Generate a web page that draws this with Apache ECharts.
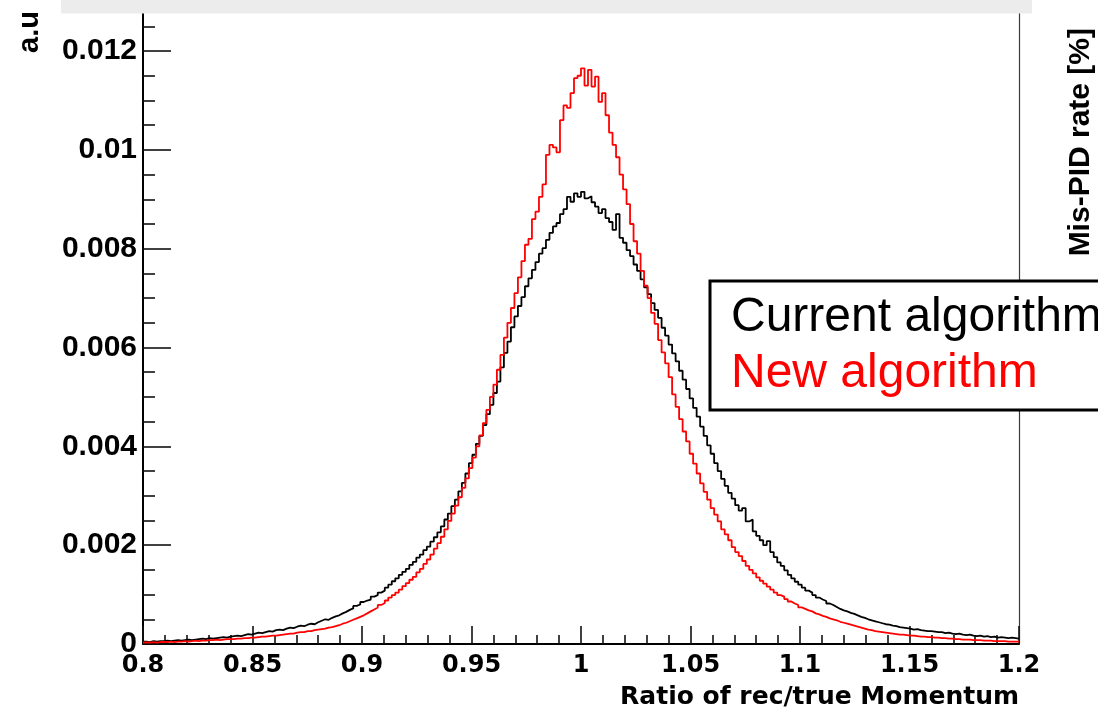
<!DOCTYPE html>
<html>
<head>
<meta charset="utf-8">
<script src="https://cdn.jsdelivr.net/npm/echarts@6/dist/echarts.min.js"></script>
<style>
  html, body { margin: 0; padding: 0; background: #ffffff; }
  #chart { width: 1098px; height: 709px; }
</style>
</head>
<body>
<div id="chart"></div>
<script>
// Histogram binning: equal-width bins over the momentum-ratio range
const BIN_LO = 0.8;
const BIN_HI = 1.2;

const seriesNames = ['Current algorithm', 'New algorithm'];
const xTitle = 'Ratio of rec/true Momentum';
const yTitle = 'a.u';
const y2Title = 'Mis-PID rate [%]';

// Bin contents (a.u.), 250 bins from 0.8 to 1.2
const currentAlgo = [
  0.00005,0.00004,0.00006,0.00005,0.00006,0.00006,0.00007,0.00006,0.00007,0.00008,
  0.00007,0.00008,0.00009,0.00008,0.00009,0.00010,0.00011,0.00010,0.00012,0.00011,
  0.00012,0.00013,0.00014,0.00013,0.00015,
  0.00016,0.00017,0.00016,0.00018,0.00020,0.00019,0.00021,0.00023,0.00022,0.00024,
  0.00026,0.00025,0.00028,0.00029,0.00028,0.00031,0.00033,0.00032,0.00035,0.00037,
  0.00036,0.00039,0.00041,0.00040,0.00044,
  0.00047,0.00050,0.00049,0.00053,0.00056,0.00058,0.00062,0.00065,0.00069,0.00072,
  0.00077,0.00080,0.00085,0.00088,0.00090,0.00096,0.00099,0.00104,0.00108,0.00114,
  0.00120,0.00127,0.00133,0.00140,0.00146,
  0.00152,0.00160,0.00166,0.00175,0.00181,0.00190,0.00197,0.00207,0.00216,0.00226,
  0.00238,0.00252,0.00264,0.00279,0.00292,0.00309,0.00326,0.00345,0.00366,0.00383,
  0.00405,0.00421,0.00443,0.00465,0.00484,
  0.00508,0.00531,0.00560,0.00589,0.00612,0.00641,0.00663,0.00684,0.00702,0.00724,
  0.00740,0.00757,0.00773,0.00790,0.00801,0.00818,0.00832,0.00845,0.00852,0.00870,
  0.00880,0.00905,0.00895,0.00912,0.00905,
  0.00915,0.00902,0.00906,0.00894,0.00885,0.00872,0.00880,0.00862,0.00854,0.00838,
  0.00870,0.00822,0.00812,0.00797,0.00785,0.00768,0.00755,0.00738,0.00722,0.00708,
  0.00690,0.00676,0.00660,0.00640,0.00624,
  0.00606,0.00588,0.00572,0.00553,0.00535,0.00516,0.00497,0.00478,0.00460,0.00440,
  0.00421,0.00402,0.00385,0.00366,0.00350,0.00334,0.00320,0.00306,0.00294,0.00281,
  0.00270,0.00275,0.00248,0.00252,0.00228,
  0.00219,0.00210,0.00200,0.00208,0.00186,0.00176,0.00165,0.00158,0.00149,0.00140,
  0.00133,0.00126,0.00120,0.00114,0.00108,0.00104,0.00099,0.00094,0.00090,0.00087,
  0.00082,0.00079,0.00075,0.00071,0.00068,
  0.00066,0.00063,0.00061,0.00058,0.00055,0.00053,0.00050,0.00048,0.00046,0.00044,
  0.00042,0.00040,0.00039,0.00037,0.00036,0.00034,0.00033,0.00032,0.00031,0.00029,
  0.00030,0.00028,0.00027,0.00026,0.00026,
  0.00025,0.00024,0.00024,0.00022,0.00023,0.00021,0.00020,0.00021,0.00019,0.00018,
  0.00019,0.00017,0.00016,0.00017,0.00015,0.00016,0.00014,0.00015,0.00013,0.00014,
  0.00013,0.00012,0.00013,0.00012,0.00011
];

const newAlgo = [
  0.00003,0.00003,0.00004,0.00003,0.00004,0.00004,0.00004,0.00005,0.00004,0.00005,
  0.00005,0.00006,0.00005,0.00006,0.00007,0.00006,0.00007,0.00007,0.00008,0.00008,
  0.00009,0.00008,0.00009,0.00010,0.00010,
  0.00010,0.00011,0.00011,0.00012,0.00012,0.00013,0.00013,0.00014,0.00015,0.00015,
  0.00016,0.00017,0.00017,0.00018,0.00019,0.00020,0.00021,0.00021,0.00023,0.00024,
  0.00024,0.00026,0.00026,0.00028,0.00029,
  0.00030,0.00031,0.00033,0.00034,0.00036,0.00038,0.00041,0.00043,0.00046,0.00049,
  0.00052,0.00055,0.00058,0.00062,0.00066,0.00070,0.00074,0.00079,0.00083,0.00088,
  0.00094,0.00099,0.00104,0.00110,0.00117,
  0.00123,0.00130,0.00136,0.00145,0.00152,0.00162,0.00171,0.00181,0.00193,0.00204,
  0.00217,0.00232,0.00249,0.00264,0.00280,0.00297,0.00316,0.00335,0.00356,0.00377,
  0.00400,0.00422,0.00447,0.00474,0.00500,
  0.00525,0.00555,0.00585,0.00620,0.00650,0.00680,0.00710,0.00742,0.00775,0.00808,
  0.00820,0.00860,0.00875,0.00905,0.00930,0.00990,0.01010,0.01005,0.00995,0.01060,
  0.01090,0.01085,0.01115,0.01145,0.01150,
  0.01165,0.01130,0.01162,0.01128,0.01148,0.01097,0.01115,0.01070,0.01035,0.01010,
  0.00985,0.00950,0.00920,0.00890,0.00850,0.00815,0.00790,0.00755,0.00725,0.00700,
  0.00670,0.00648,0.00615,0.00590,0.00568,
  0.00540,0.00505,0.00480,0.00455,0.00430,0.00410,0.00385,0.00365,0.00345,0.00325,
  0.00308,0.00292,0.00275,0.00262,0.00248,0.00232,0.00222,0.00210,0.00196,0.00186,
  0.00178,0.00168,0.00158,0.00150,0.00143,
  0.00135,0.00128,0.00122,0.00116,0.00110,0.00104,0.00099,0.00096,0.00091,0.00086,
  0.00082,0.00079,0.00074,0.00071,0.00068,0.00066,0.00062,0.00060,0.00057,0.00055,
  0.00052,0.00050,0.00048,0.00045,0.00043,
  0.00041,0.00039,0.00037,0.00035,0.00033,0.00031,0.00029,0.00028,0.00026,0.00025,
  0.00024,0.00023,0.00022,0.00021,0.00020,0.00019,0.00019,0.00018,0.00017,0.00017,
  0.00016,0.00015,0.00015,0.00014,0.00014,
  0.00013,0.00013,0.00012,0.00012,0.00011,0.00011,0.00010,0.00010,0.00009,0.00009,
  0.00009,0.00008,0.00008,0.00008,0.00007,0.00007,0.00007,0.00006,0.00006,0.00006,
  0.00006,0.00005,0.00005,0.00005,0.00005
];

// Turn bin contents into [lowEdge, value] pairs for a step outline,
// closing the last bin at the upper edge.
function histOutline(values) {
  const w = (BIN_HI - BIN_LO) / values.length;
  const pts = values.map((v, i) => [BIN_LO + i * w, v]);
  pts.push([BIN_HI, values[values.length - 1]]);
  return pts;
}

const chart = echarts.init(document.getElementById('chart'), null, { renderer: 'canvas' });

const tickStyle = { color: '#111', width: 1.6 };

const option = {
  animation: false,
  backgroundColor: '#ffffff',
  grid: {
    left: 143,
    right: 79,
    top: -47.8,
    bottom: 65,
    containLabel: false,
    outerBoundsMode: 'none'
  },
  legend: {
    orient: 'vertical',
    left: 710,
    top: 281,
    padding: [9, 60, 8, 16],
    itemGap: 0,
    itemWidth: 0,
    itemHeight: 0,
    icon: 'rect',
    selectedMode: false,
    backgroundColor: '#ffffff',
    borderColor: '#000000',
    borderWidth: 3,
    borderRadius: 0,
    textStyle: {
      fontFamily: 'Liberation Sans',
      fontSize: 48,
      lineHeight: 56
    },
    data: [
      { name: seriesNames[0], textStyle: { color: '#000000' } },
      { name: seriesNames[1], textStyle: { color: '#ff0000' } }
    ],
    z: 20
  },
  xAxis: {
    type: 'value',
    min: BIN_LO,
    max: BIN_HI,
    interval: 0.05,
    axisLine: { show: true, lineStyle: { color: '#000', width: 2 } },
    axisTick: { show: true, inside: true, length: 18, lineStyle: tickStyle },
    minorTick: { show: true, splitNumber: 5, length: 9, lineStyle: tickStyle },
    splitLine: { show: false },
    minorSplitLine: { show: false },
    axisLabel: {
      color: '#000',
      fontFamily: 'DejaVu Sans',
      fontWeight: 'bold',
      fontSize: 24,
      margin: 10
    }
  },
  yAxis: [
    {
      type: 'value',
      position: 'left',
      min: 0,
      max: 0.014,
      interval: 0.002,
      axisLine: { show: true, lineStyle: { color: '#000', width: 2 } },
      axisTick: { show: true, inside: true, length: 28, lineStyle: tickStyle },
      minorTick: { show: true, splitNumber: 4, length: 12, lineStyle: tickStyle },
      splitLine: { show: false },
      minorSplitLine: { show: false },
      axisLabel: {
        color: '#000',
        fontFamily: 'Liberation Sans',
        fontWeight: 'bold',
        fontSize: 30,
        margin: 6
      }
    },
    {
      type: 'value',
      position: 'right',
      min: 0,
      max: 1,
      axisLine: { show: true, onZero: false, lineStyle: { color: '#3a3a3a', width: 1.2 } },
      axisTick: { show: false },
      axisLabel: { show: false },
      splitLine: { show: false }
    }
  ],
  series: [
    {
      name: seriesNames[0],
      type: 'line',
      step: 'end',
      yAxisIndex: 0,
      data: histOutline(currentAlgo),
      showSymbol: false,
      symbol: 'none',
      color: '#000000',
      lineStyle: { color: '#000000', width: 1.8 },
      z: 3
    },
    {
      name: seriesNames[1],
      type: 'line',
      step: 'end',
      yAxisIndex: 0,
      data: histOutline(newAlgo),
      showSymbol: false,
      symbol: 'none',
      color: '#ff0000',
      lineStyle: { color: '#ff0000', width: 1.8 },
      z: 4
    }
  ],
  graphic: [
    {
      // title pave strip across the top
      type: 'rect',
      z: 100,
      shape: { x: 61, y: 0, width: 971, height: 13.5 },
      style: { fill: '#ececec' }
    },
    {
      type: 'text',
      z: 100,
      x: 30,
      y: 11,
      rotation: Math.PI / 2,
      style: {
        text: yTitle,
        font: 'bold 29px "Liberation Sans"',
        fill: '#000',
        align: 'right',
        verticalAlign: 'middle'
      }
    },
    {
      type: 'text',
      z: 100,
      x: 1081,
      y: 28,
      rotation: Math.PI / 2,
      style: {
        text: y2Title,
        font: 'bold 30px "Liberation Sans"',
        fill: '#000',
        align: 'right',
        verticalAlign: 'middle'
      }
    },
    {
      type: 'text',
      z: 100,
      x: 1019,
      y: 697,
      style: {
        text: xTitle,
        font: 'bold 25px "DejaVu Sans"',
        fill: '#000',
        align: 'right',
        verticalAlign: 'middle'
      }
    }
  ]
};

chart.setOption(option);
</script>
</body>
</html>
